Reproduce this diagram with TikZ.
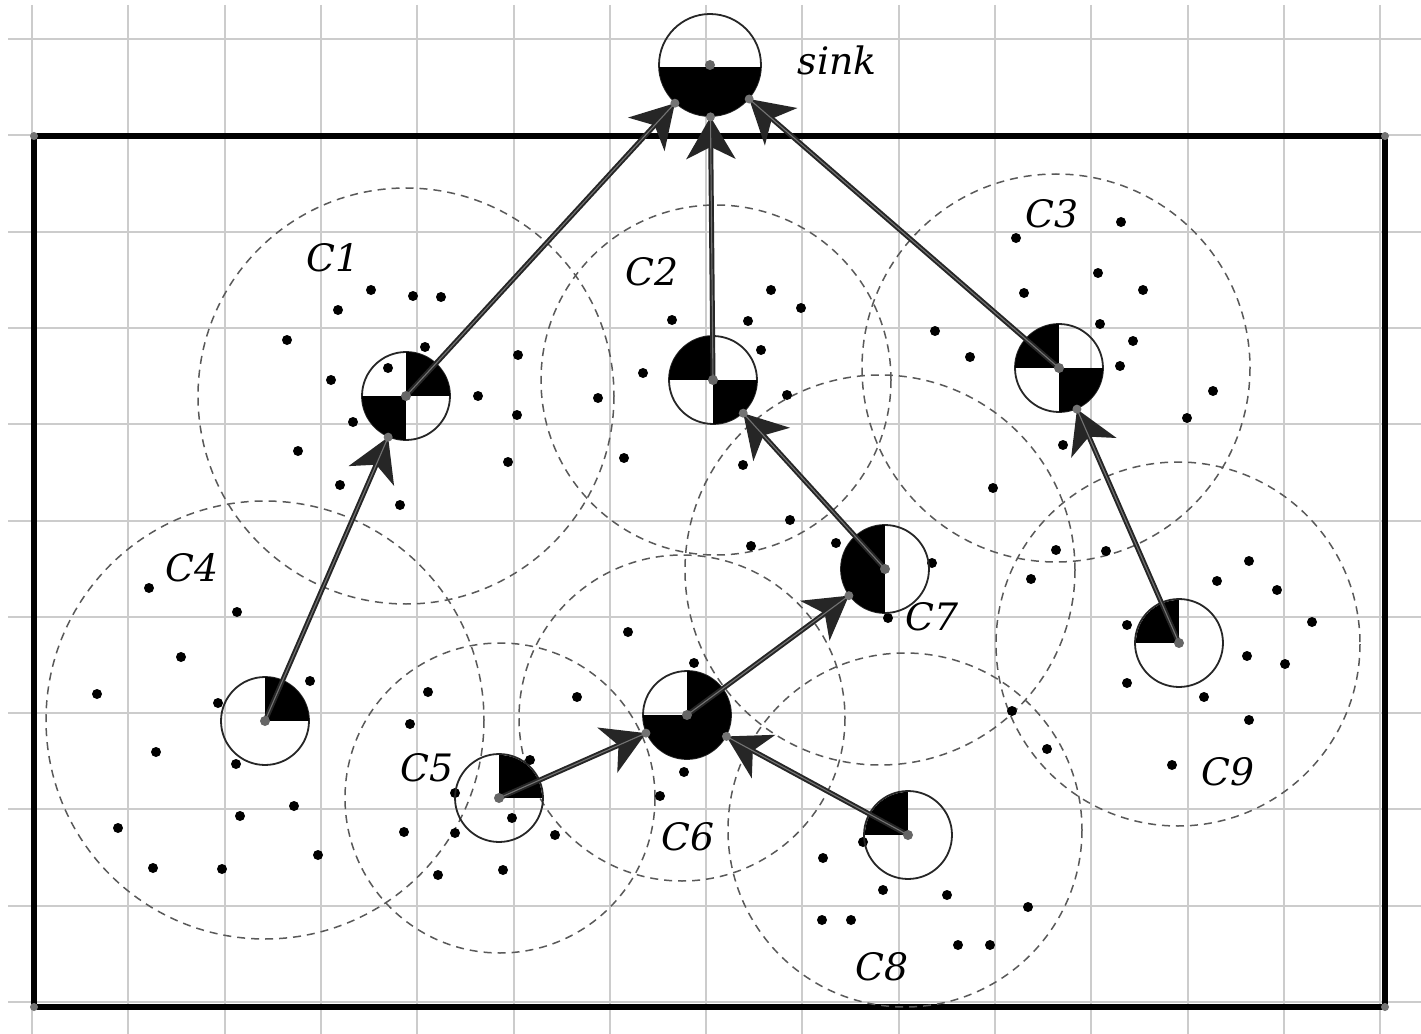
\documentclass[tikz,border=0pt]{standalone}
\usepackage{fontspec}
\setmainfont{DejaVu Serif}
\usetikzlibrary{arrows.meta}
\tikzset{
  gridline/.style={draw=black!20, line width=0.04cm},
  frame/.style={draw=black, line width=0.13cm},
  cluster/.style={draw=black!65, line width=0.03cm, dash pattern=on 0.16cm off 0.12cm},
  chnode/.style={circle, draw=black!85, line width=0.036cm, minimum size=1.76cm, inner sep=0pt},
  sinknode/.style={circle, draw=black!85, line width=0.036cm, minimum size=2.04cm, inner sep=0pt},
  link/.style={draw=black!85, line width=0.1cm, -{Stealth[length=0.84cm, width=0.98cm, inset=0.24cm]}},
  core/.style={draw=black!55, line width=0.022cm},
  enddot/.style={fill=black!55},
  lbl/.style={font=\itshape\fontsize{21.5}{26}\selectfont, inner sep=0pt},
  sensor/.style={fill=black},
}
\begin{document}
\begin{tikzpicture}[x=0.02cm, y=-0.02cm]
\useasboundingbox (0,0) rectangle (1421,1034);
\fill[white] (0,0) rectangle (1421,1034);
% grid
\foreach \k in {0,...,14} { \draw[gridline] ({32+96.3*\k},5) -- ({32+96.3*\k},1034); }
\foreach \k in {0,...,10} { \draw[gridline] (8,{39+96.3*\k}) -- (1421,{39+96.3*\k}); }
% frame
\draw[frame] (34,136) rectangle (1385,1007);
\foreach \p in {(34,136),(1385,136),(34,1007),(1385,1007)} { \fill[enddot] \p circle (4); }
% cluster circles
\draw[cluster] (406,396) circle (208);
\draw[cluster] (716,380) circle (175);
\draw[cluster] (1056,368) circle (194);
\draw[cluster] (265,720) circle (219);
\draw[cluster] (500,798) circle (155);
\draw[cluster] (682,718) circle (163);
\draw[cluster] (880,570) circle (195);
\draw[cluster] (905,830) circle (177);
\draw[cluster] (1178,644) circle (182);
% sensor dots
\foreach \p in {(371,290),(413,296),(441,297),(338,310),(287,340),(518,355),(331,380),(425,347),(388,368),(478,396),(517,415),(353,422),(298,451),(508,462),(340,485),(400,505),
(771,290),(801,308),(672,320),(748,321),(643,373),(761,350),(598,398),(787,395),(624,458),(743,465),
(1016,238),(1121,222),(1098,273),(1143,290),(1024,293),(935,331),(1100,324),(1133,341),(970,357),(1120,366),(1213,391),(1187,418),(1063,445),(993,488),
(149,588),(237,612),(181,657),(97,694),(310,681),(218,703),(156,752),(236,764),(294,806),(240,816),(118,828),(318,855),(153,868),(222,869),
(428,692),(410,724),(530,760),(455,793),(404,832),(455,833),(512,818),(438,875),(503,870),(555,835),(577,697),
(628,632),(694,663),(684,772),(660,796),(751,546),(790,520),(836,543),(932,563),(888,618),
(823,858),(863,842),(883,890),(947,895),(822,920),(851,920),(1028,907),(958,945),(990,945),(1012,711),(1047,749),
(1031,579),(1056,550),(1106,551),(1217,581),(1249,561),(1277,590),(1312,622),(1247,656),(1285,664),(1127,625),(1127,683),(1204,697),(1172,765),(1249,720)}
{ \fill[sensor] \p circle (5); }
% cluster head nodes
\node[sinknode] (sink) at (710,65) {};
\node[chnode] (c1) at (406,396) {};
\node[chnode] (c2) at (713,380) {};
\node[chnode] (c3) at (1059,368) {};
\node[chnode] (c4) at (265,721) {};
\node[chnode] (c5) at (499,798) {};
\node[chnode] (c6) at (687,715) {};
\node[chnode] (c7) at (885,569) {};
\node[chnode] (c8) at (908,835) {};
\node[chnode] (c9) at (1179,643) {};
% fills
\begin{scope}\clip (710,65) circle (51); \fill (650,67) rectangle (770,120); \end{scope}
\begin{scope}\clip (406,396) circle (44); \fill (406,396) rectangle (456,346); \fill (406,396) rectangle (356,446); \end{scope}
\begin{scope}\clip (713,380) circle (44); \fill (713,380) rectangle (663,330); \fill (713,380) rectangle (763,430); \end{scope}
\begin{scope}\clip (1059,368) circle (44); \fill (1059,368) rectangle (1009,318); \fill (1059,368) rectangle (1109,418); \end{scope}
\begin{scope}\clip (885,569) circle (44); \fill (835,519) rectangle (885,619); \end{scope}
\begin{scope}\clip (265,721) circle (44); \fill (265,721) rectangle (315,671); \end{scope}
\begin{scope}\clip (499,798) circle (43); \fill (499,798) rectangle (549,748); \end{scope}
\begin{scope}\clip (687,715) circle (44); \fill (687,715) rectangle (737,665); \fill (637,715) rectangle (737,765); \end{scope}
\begin{scope}\clip (908,835) circle (43); \fill (908,835) rectangle (858,785); \end{scope}
\begin{scope}\clip (1179,643) circle (43); \fill (1179,643) rectangle (1129,593); \end{scope}
% links
\foreach \a/\b in {c1/sink,c2/sink,c3/sink,c4/c1,c7/c2,c6/c7,c5/c6,c8/c6,c9/c3} {
  \draw[link] (\a.center) -- (\b);
  \draw[core] (\a.center) -- coordinate[pos=1] (e\a) (\b);
  \fill[enddot] (e\a) circle (4.5);
}
% centre marks
\foreach \n in {sink,c1,c2,c3,c4,c5,c6,c7,c8,c9} { \fill[black!60] (\n.center) circle (5); }
% labels
\node[lbl] (lsink) at (837,60) {sink};
\node[lbl] (l1) at (333,258) {C1};
\node[lbl] (l2) at (652,272) {C2};
\node[lbl] (l3) at (1052,214) {C3};
\node[lbl] (l4) at (192,568) {C4};
\node[lbl] (l5) at (427,768) {C5};
\node[lbl] (l6) at (688,837) {C6};
\node[lbl] (l7) at (932,617) {C7};
\node[lbl] (l8) at (882,967) {C8};
\node[lbl] (l9) at (1228,772) {C9};
\end{tikzpicture}
\end{document}
